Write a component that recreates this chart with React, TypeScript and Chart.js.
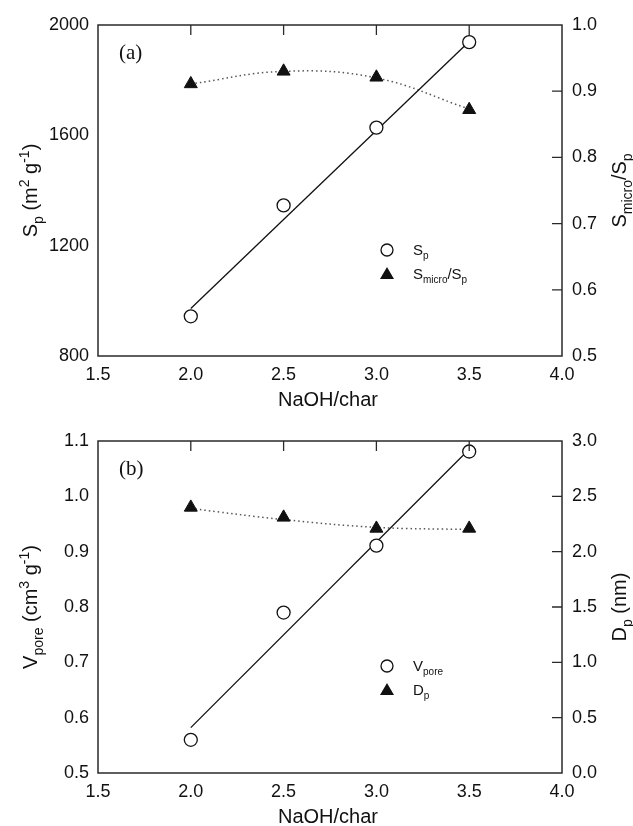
import React, { useEffect, useRef } from "react";
import { Chart, registerables } from "chart.js";

Chart.register(...registerables);

// ---------- data ----------
const NAOH_RATIO = [2.0, 2.5, 3.0, 3.5];
const X_TICKS = [1.5, 2.0, 2.5, 3.0, 3.5, 4.0];

// panel (a)
const SP = [944, 1346, 1628, 1938];
const SP_FIT_X = [2.0, 3.5];
const SP_FIT = [972, 1940];
const SMICRO_SP = [0.911, 0.93, 0.921, 0.872];
const SMICRO_SP_FIT = [0.911, 0.93, 0.92, 0.873];
const SP_TICKS = [800, 1200, 1600, 2000];
const SMICRO_TICKS = [0.5, 0.6, 0.7, 0.8, 0.9, 1.0];

// panel (b)
const VPORE = [0.56, 0.79, 0.911, 1.081];
const VPORE_FIT_X = [2.0, 3.5];
const VPORE_FIT = [0.582, 1.085];
const DP = [2.4, 2.31, 2.21, 2.21];
const DP_FIT = [2.39, 2.29, 2.22, 2.2];
const VPORE_TICKS = [0.5, 0.6, 0.7, 0.8, 0.9, 1.0, 1.1];
const DP_TICKS = [0.0, 0.5, 1.0, 1.5, 2.0, 2.5, 3.0];

const SANS = "'Liberation Sans', Arial, sans-serif";
const SERIF = "'Liberation Serif', 'Times New Roman', serif";
const AXIS_COLOR = "#2a2a2a";

type Part = [string, number]; // 0 normal, 1 sub, 2 sup

function richWidth(ctx: CanvasRenderingContext2D, parts: Part[], size: number) {
  let w = 0;
  for (const [t, m] of parts) {
    ctx.font = `${m === 0 ? size : Math.round(size * 0.68)}px ${SANS}`;
    w += ctx.measureText(t).width;
  }
  return w;
}

function drawRich(
  ctx: CanvasRenderingContext2D,
  parts: Part[],
  x: number,
  y: number,
  size: number,
  align: "left" | "center",
  rotate: boolean
) {
  ctx.save();
  ctx.translate(x, y);
  if (rotate) ctx.rotate(-Math.PI / 2);
  ctx.fillStyle = "#111";
  ctx.textBaseline = "alphabetic";
  ctx.textAlign = "left";
  const total = richWidth(ctx, parts, size);
  let cx = align === "center" ? -total / 2 : 0;
  for (const [t, m] of parts) {
    const s = m === 0 ? size : Math.round(size * 0.68);
    ctx.font = `${s}px ${SANS}`;
    const dy = m === 1 ? size * 0.28 : m === 2 ? -size * 0.42 : 0;
    ctx.fillText(t, cx, dy);
    cx += ctx.measureText(t).width;
  }
  ctx.restore();
}

interface PanelSpec {
  height: number;
  padTop: number;
  xHeight: number;
  label: string;
  leftTitle: Part[];
  rightTitle: Part[];
  legend1: Part[];
  legend2: Part[];
  circles: number[];
  circleFitX: number[];
  circleFit: number[];
  triangles: number[];
  triangleFit: number[];
  leftTicks: number[];
  rightTicks: number[];
  leftDigits: number;
  rightDigits: number;
}

const PANELS: PanelSpec[] = [
  {
    height: 412,
    padTop: 25,
    xHeight: 56,
    label: "(a)",
    leftTitle: [["S", 0], ["p", 1], [" (m", 0], ["2", 2], [" g", 0], ["-1", 2], [")", 0]],
    rightTitle: [["S", 0], ["micro", 1], ["/S", 0], ["p", 1]],
    legend1: [["S", 0], ["p", 1]],
    legend2: [["S", 0], ["micro", 1], ["/S", 0], ["p", 1]],
    circles: SP,
    circleFitX: SP_FIT_X,
    circleFit: SP_FIT,
    triangles: SMICRO_SP,
    triangleFit: SMICRO_SP_FIT,
    leftTicks: SP_TICKS,
    rightTicks: SMICRO_TICKS,
    leftDigits: 0,
    rightDigits: 1,
  },
  {
    height: 414,
    padTop: 29,
    xHeight: 53,
    label: "(b)",
    leftTitle: [["V", 0], ["pore", 1], [" (cm", 0], ["3", 2], [" g", 0], ["-1", 2], [")", 0]],
    rightTitle: [["D", 0], ["p", 1], [" (nm)", 0]],
    legend1: [["V", 0], ["pore", 1]],
    legend2: [["D", 0], ["p", 1]],
    circles: VPORE,
    circleFitX: VPORE_FIT_X,
    circleFit: VPORE_FIT,
    triangles: DP,
    triangleFit: DP_FIT,
    leftTicks: VPORE_TICKS,
    rightTicks: DP_TICKS,
    leftDigits: 1,
    rightDigits: 1,
  },
];

function Panel({ spec }: { spec: PanelSpec }) {
  const ref = useRef<HTMLCanvasElement | null>(null);

  useEffect(() => {
    const canvas = ref.current;
    if (!canvas) return;

    const decor = {
      id: "decor",
      afterDraw(chart: any) {
        const ctx: CanvasRenderingContext2D = chart.ctx;
        const a = chart.chartArea;
        const xs = chart.scales.x;
        const yr = chart.scales.y1;
        ctx.save();
        // frame
        ctx.strokeStyle = AXIS_COLOR;
        ctx.lineWidth = 1.5;
        ctx.strokeRect(a.left, a.top, a.right - a.left, a.bottom - a.top);
        // inward ticks on top axis
        ctx.lineWidth = 1.3;
        ctx.beginPath();
        for (const v of X_TICKS.slice(1, -1)) {
          const px = xs.getPixelForValue(v);
          ctx.moveTo(px, a.top);
          ctx.lineTo(px, a.top + 10);
        }
        // inward ticks on right axis
        for (const v of spec.rightTicks.slice(1, -1)) {
          const py = yr.getPixelForValue(v);
          ctx.moveTo(a.right, py);
          ctx.lineTo(a.right - 10, py);
        }
        ctx.stroke();

        // panel label
        ctx.fillStyle = "#111";
        ctx.font = `21px ${SERIF}`;
        ctx.textAlign = "left";
        ctx.textBaseline = "middle";
        ctx.fillText(spec.label, a.left + 21, a.top + 28);

        // axis titles
        drawRich(ctx, [["NaOH/char", 0]], (a.left + a.right) / 2 - 2, a.bottom + 50, 20, "center", false);
        drawRich(ctx, spec.leftTitle, 37, (a.top + a.bottom) / 2, 20, "center", true);
        drawRich(ctx, spec.rightTitle, 626, (a.top + a.bottom) / 2, 20, "center", true);

        // legend
        const lx = a.left + 289;
        const ly1 = a.top + 225;
        const ly2 = a.top + 249;
        ctx.lineWidth = 1.3;
        ctx.strokeStyle = "#111";
        ctx.fillStyle = "#fff";
        ctx.beginPath();
        ctx.arc(lx, ly1, 6, 0, Math.PI * 2);
        ctx.fill();
        ctx.stroke();
        ctx.fillStyle = "#111";
        ctx.beginPath();
        ctx.moveTo(lx, ly2 - 7);
        ctx.lineTo(lx + 7, ly2 + 5);
        ctx.lineTo(lx - 7, ly2 + 5);
        ctx.closePath();
        ctx.fill();
        drawRich(ctx, spec.legend1, lx + 26, ly1 + 5, 15, "left", false);
        drawRich(ctx, spec.legend2, lx + 26, ly2 + 5, 15, "left", false);
        ctx.restore();
      },
    };

    const tickFont = { family: SANS, size: 18 };
    const chart = new Chart(canvas, {
      type: "scatter",
      data: {
        datasets: [
          {
            label: "circles",
            data: NAOH_RATIO.map((x, i) => ({ x, y: spec.circles[i] })),
            yAxisID: "y",
            showLine: false,
            pointStyle: "circle",
            pointRadius: 6.5,
            pointBackgroundColor: "#fff",
            pointBorderColor: "#111",
            pointBorderWidth: 1.3,
          },
          {
            label: "triangles",
            data: NAOH_RATIO.map((x, i) => ({ x, y: spec.triangles[i] })),
            yAxisID: "y1",
            showLine: false,
            pointStyle: "triangle",
            pointRadius: 7.5,
            pointBackgroundColor: "#111",
            pointBorderColor: "#111",
            pointBorderWidth: 1,
          },
          {
            label: "circle fit",
            data: spec.circleFitX.map((x, i) => ({ x, y: spec.circleFit[i] })),
            yAxisID: "y",
            showLine: true,
            pointRadius: 0,
            borderColor: "#111",
            borderWidth: 1.3,
          },
          {
            label: "triangle fit",
            data: NAOH_RATIO.map((x, i) => ({ x, y: spec.triangleFit[i] })),
            yAxisID: "y1",
            showLine: true,
            tension: 0.4,
            pointRadius: 0,
            borderColor: "#555",
            borderWidth: 1.5,
            borderDash: [1.5, 3],
          },
        ],
      },
      options: {
        animation: false,
        responsive: false,
        devicePixelRatio: 1,
        layout: { padding: { top: spec.padTop, left: 0, right: 0, bottom: 0 } },
        plugins: { legend: { display: false }, tooltip: { enabled: false } },
        scales: {
          x: {
            type: "linear",
            min: 1.5,
            max: 4.0,
            afterBuildTicks: (s: any) => {
              s.ticks = X_TICKS.map((v) => ({ value: v }));
            },
            afterFit: (s: any) => {
              s.height = spec.xHeight;
            },
            grid: { display: false, drawTicks: false },
            border: { display: false },
            ticks: {
              font: tickFont,
              color: "#111",
              padding: 8,
              maxRotation: 0,
              autoSkip: false,
              callback: (v: any) => Number(v).toFixed(1),
            },
          },
          y: {
            type: "linear",
            position: "left",
            min: spec.leftTicks[0],
            max: spec.leftTicks[spec.leftTicks.length - 1],
            afterBuildTicks: (s: any) => {
              s.ticks = spec.leftTicks.map((v) => ({ value: v }));
            },
            afterFit: (s: any) => {
              s.width = 98;
            },
            grid: { display: false, drawTicks: false },
            border: { display: false },
            ticks: {
              font: tickFont,
              color: "#111",
              padding: 9,
              autoSkip: false,
              callback: (v: any) => Number(v).toFixed(spec.leftDigits),
            },
          },
          y1: {
            type: "linear",
            position: "right",
            min: spec.rightTicks[0],
            max: spec.rightTicks[spec.rightTicks.length - 1],
            afterBuildTicks: (s: any) => {
              s.ticks = spec.rightTicks.map((v) => ({ value: v }));
            },
            afterFit: (s: any) => {
              s.width = 71;
            },
            grid: { display: false, drawTicks: false },
            border: { display: false },
            ticks: {
              font: tickFont,
              color: "#111",
              padding: 10,
              autoSkip: false,
              callback: (v: any) => Number(v).toFixed(spec.rightDigits),
            },
          },
        },
      },
      plugins: [decor],
    } as any);

    return () => chart.destroy();
  }, [spec]);

  return (
    <canvas
      ref={ref}
      width={633}
      height={spec.height}
      style={{ display: "block", width: 633, height: spec.height }}
    />
  );
}

export default function App() {
  return (
    <div style={{ position: "absolute", left: 0, top: 0, width: 633, height: 826, background: "#fff" }}>
      {PANELS.map((p, i) => (
        <Panel key={i} spec={p} />
      ))}
    </div>
  );
}
